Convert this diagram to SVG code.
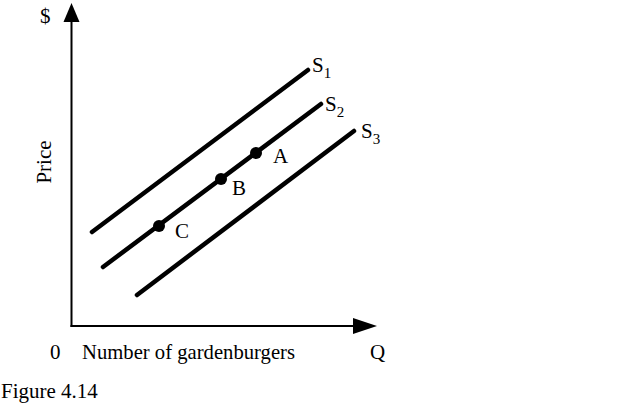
<svg xmlns="http://www.w3.org/2000/svg" width="640" height="406" viewBox="0 0 640 406">
<style>
text{font-family:"Liberation Serif","Times New Roman",serif;font-size:21px;fill:#000}
.sub{font-size:15px}
.axis{stroke:#000;stroke-width:2;fill:none}
.curve{stroke:#000;stroke-width:4.5;stroke-linecap:round;fill:none}
.dot{fill:#000}
</style>
<rect width="640" height="406" fill="#fff"/>
<g id="axes">
<line class="axis" x1="71.5" y1="327" x2="71.5" y2="20"/>
<polygon points="71.5,3 63.5,22 79.5,22" fill="#000"/>
<line class="axis" x1="70.5" y1="326" x2="355" y2="326"/>
<polygon points="377,326 353,318 353,334" fill="#000"/>
<text x="40" y="23">$</text>
<text transform="translate(51,162) rotate(-90)" text-anchor="middle">Price</text>
<text x="50" y="359">0</text>
<text x="82" y="359" textLength="213" lengthAdjust="spacingAndGlyphs">Number of gardenburgers</text>
<text x="370" y="359">Q</text>
</g>
<g id="connectors">
<line id="S1-line" class="curve" x1="92" y1="232" x2="308" y2="70"/>
<line id="S2-line" class="curve" x1="103" y1="267" x2="321" y2="104"/>
<line id="S3-line" class="curve" x1="137" y1="295" x2="354" y2="131"/>
</g>
<g id="S1"><text x="312" y="72">S<tspan class="sub" dy="6">1</tspan></text></g>
<g id="S2"><text x="325" y="111">S<tspan class="sub" dy="6">2</tspan></text></g>
<g id="S3"><text x="361" y="138">S<tspan class="sub" dy="6">3</tspan></text></g>
<g id="A"><circle class="dot" cx="256" cy="153" r="6"/><text x="273" y="163">A</text></g>
<g id="B"><circle class="dot" cx="221" cy="179" r="6"/><text x="232" y="195">B</text></g>
<g id="C"><circle class="dot" cx="159" cy="226" r="6"/><text x="175" y="238">C</text></g>
<g id="caption"><text x="1" y="398">Figure 4.14</text></g>
</svg>
